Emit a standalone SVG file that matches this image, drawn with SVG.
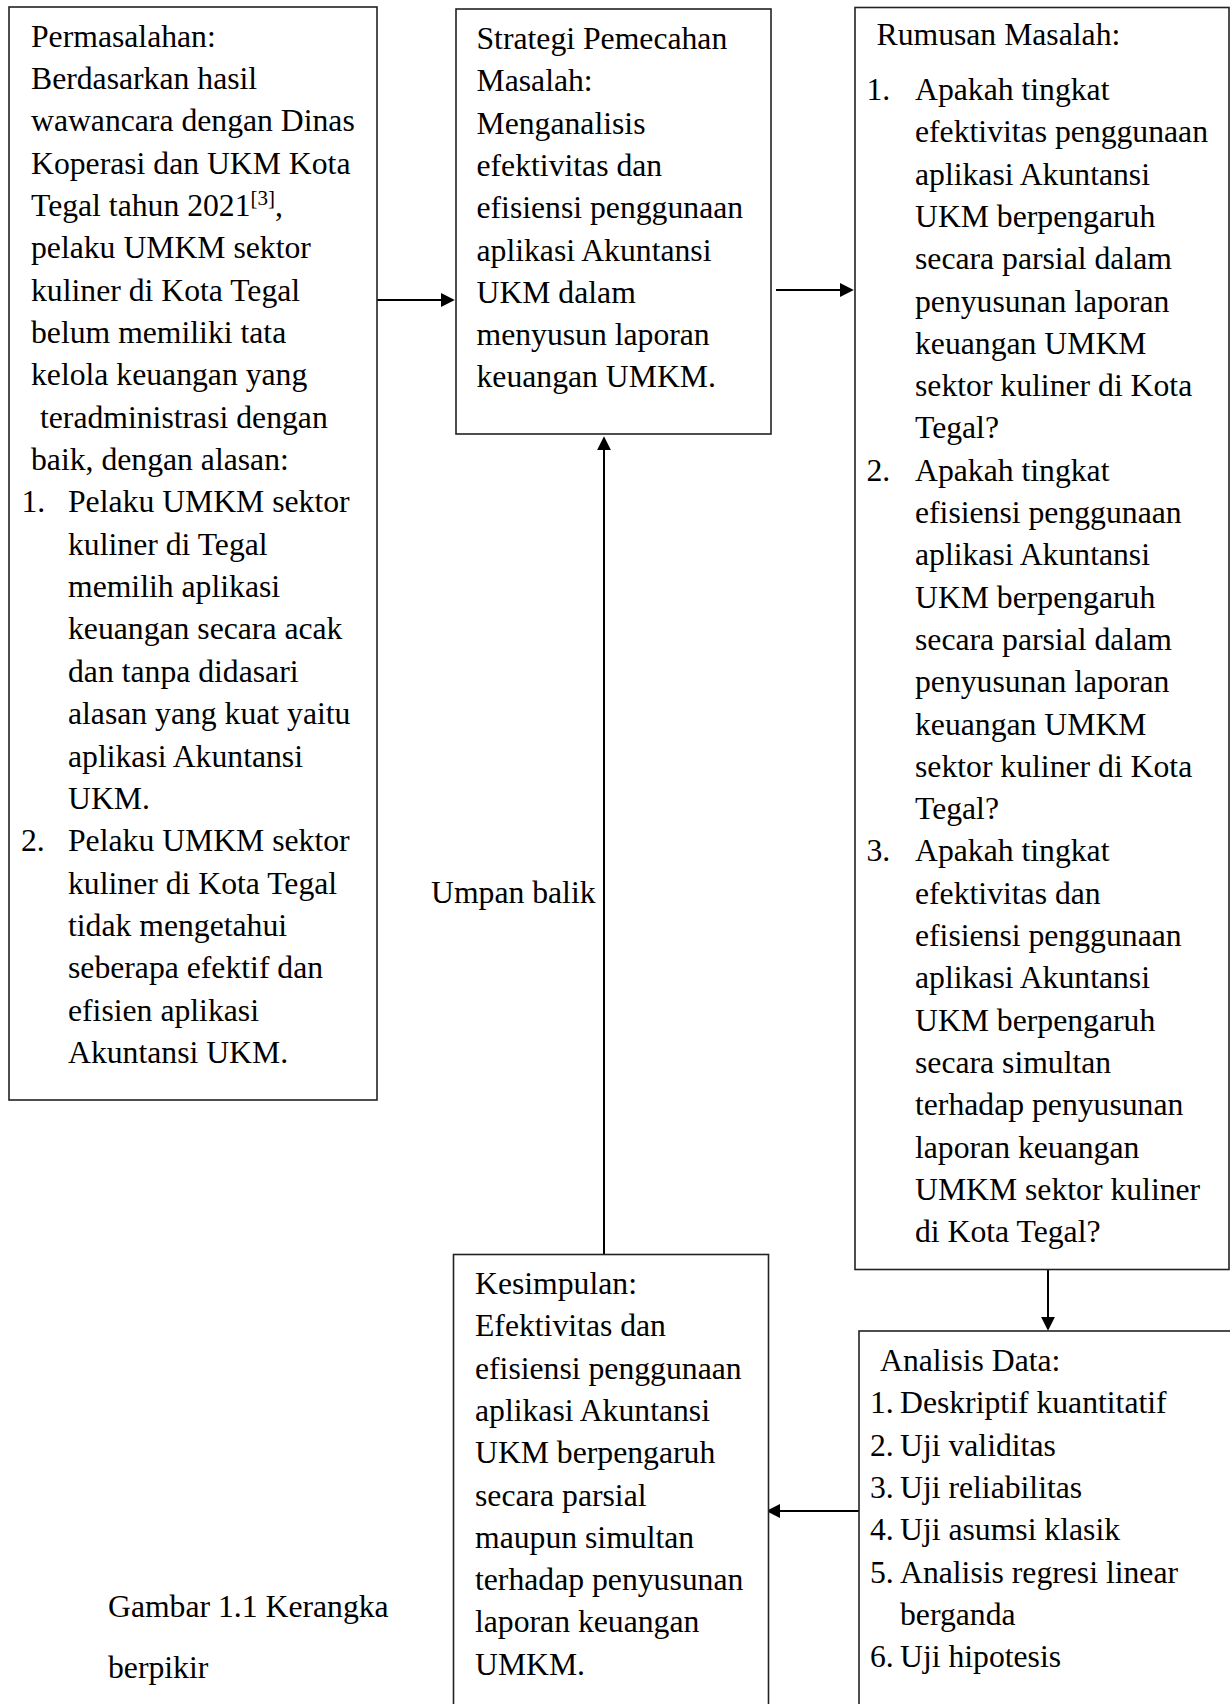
<svg xmlns="http://www.w3.org/2000/svg" width="1230" height="1704" viewBox="0 0 1230 1704">
<style>
.bg{fill:#fff}
.box{fill:#fff;stroke:#222;stroke-width:1.6}
.t{font-family:"Liberation Serif","Times New Roman",serif;font-size:31.7px;fill:#000}
.sup{font-size:21px}
.c{fill:none;stroke:#000;stroke-width:2}
</style>
<defs>
<marker id="ah" viewBox="0 0 10 10" refX="8" refY="5" markerWidth="7" markerHeight="7" markerUnits="strokeWidth" orient="auto">
<path d="M0,0 L10,5 L0,10 z" fill="#000"/>
</marker>
</defs>
<rect class="bg" x="0" y="0" width="1230" height="1704"/>

<g id="connectors">
<path class="c" d="M377,300 H452" marker-end="url(#ah)"/>
<path class="c" d="M776,290 H851" marker-end="url(#ah)"/>
<path class="c" d="M1048,1270 V1328" marker-end="url(#ah)"/>
<path class="c" d="M859,1511 H769" marker-end="url(#ah)"/>
<path class="c" d="M604,1254 V439" marker-end="url(#ah)"/>
<text class="t" x="431" y="903">Umpan balik</text>
</g>

<g id="permasalahan">
<rect class="box" x="9" y="7" width="368" height="1093"/>
<text class="t" x="31" y="46.5">Permasalahan:</text>
<text class="t" x="31" y="88.9">Berdasarkan hasil</text>
<text class="t" x="31" y="131.2">wawancara dengan Dinas</text>
<text class="t" x="31" y="173.6">Koperasi dan UKM Kota</text>
<text class="t" x="31" y="215.9">Tegal tahun 2021<tspan class="sup" dy="-11">[3]</tspan><tspan dy="11">,</tspan></text>
<text class="t" x="31" y="258.3">pelaku UMKM sektor</text>
<text class="t" x="31" y="300.6">kuliner di Kota Tegal</text>
<text class="t" x="31" y="343">belum memiliki tata</text>
<text class="t" x="31" y="385.3">kelola keuangan yang</text>
<text class="t" x="40" y="427.7">teradministrasi dengan</text>
<text class="t" x="31" y="470">baik, dengan alasan:</text>
<text class="t" x="21.5" y="512.4">1.</text>
<text class="t" x="68" y="512.4">Pelaku UMKM sektor</text>
<text class="t" x="68" y="554.7">kuliner di Tegal</text>
<text class="t" x="68" y="597.1">memilih aplikasi</text>
<text class="t" x="68" y="639.4">keuangan secara acak</text>
<text class="t" x="68" y="681.8">dan tanpa didasari</text>
<text class="t" x="68" y="724.1">alasan yang kuat yaitu</text>
<text class="t" x="68" y="766.5">aplikasi Akuntansi</text>
<text class="t" x="68" y="808.8">UKM.</text>
<text class="t" x="21" y="851.2">2.</text>
<text class="t" x="68" y="851.2">Pelaku UMKM sektor</text>
<text class="t" x="68" y="893.5">kuliner di Kota Tegal</text>
<text class="t" x="68" y="935.9">tidak mengetahui</text>
<text class="t" x="68" y="978.2">seberapa efektif dan</text>
<text class="t" x="68" y="1020.6">efisien aplikasi</text>
<text class="t" x="68" y="1062.9">Akuntansi UKM.</text>
</g>

<g id="strategi">
<rect class="box" x="456" y="9" width="315" height="425"/>
<text class="t" x="476.5" y="49">Strategi Pemecahan</text>
<text class="t" x="476.5" y="91.3">Masalah:</text>
<text class="t" x="476.5" y="133.6">Menganalisis</text>
<text class="t" x="476.5" y="175.9">efektivitas dan</text>
<text class="t" x="476.5" y="218.2">efisiensi penggunaan</text>
<text class="t" x="476.5" y="260.5">aplikasi Akuntansi</text>
<text class="t" x="476.5" y="302.8">UKM dalam</text>
<text class="t" x="476.5" y="345.1">menyusun laporan</text>
<text class="t" x="476.5" y="387.4">keuangan UMKM.</text>
</g>

<g id="rumusan">
<rect class="box" x="855" y="7.5" width="374" height="1262"/>
<text class="t" x="876.5" y="45">Rumusan Masalah:</text>
<text class="t" x="866.5" y="100">1.</text>
<text class="t" x="915" y="100">Apakah tingkat</text>
<text class="t" x="915" y="142.3">efektivitas penggunaan</text>
<text class="t" x="915" y="184.6">aplikasi Akuntansi</text>
<text class="t" x="915" y="226.9">UKM berpengaruh</text>
<text class="t" x="915" y="269.2">secara parsial dalam</text>
<text class="t" x="915" y="311.5">penyusunan laporan</text>
<text class="t" x="915" y="353.8">keuangan UMKM</text>
<text class="t" x="915" y="396.1">sektor kuliner di Kota</text>
<text class="t" x="915" y="438.4">Tegal?</text>
<text class="t" x="866.5" y="480.7">2.</text>
<text class="t" x="915" y="480.7">Apakah tingkat</text>
<text class="t" x="915" y="523">efisiensi penggunaan</text>
<text class="t" x="915" y="565.3">aplikasi Akuntansi</text>
<text class="t" x="915" y="607.6">UKM berpengaruh</text>
<text class="t" x="915" y="649.9">secara parsial dalam</text>
<text class="t" x="915" y="692.2">penyusunan laporan</text>
<text class="t" x="915" y="734.5">keuangan UMKM</text>
<text class="t" x="915" y="776.8">sektor kuliner di Kota</text>
<text class="t" x="915" y="819.1">Tegal?</text>
<text class="t" x="866.5" y="861.4">3.</text>
<text class="t" x="915" y="861.4">Apakah tingkat</text>
<text class="t" x="915" y="903.7">efektivitas dan</text>
<text class="t" x="915" y="946">efisiensi penggunaan</text>
<text class="t" x="915" y="988.3">aplikasi Akuntansi</text>
<text class="t" x="915" y="1030.6">UKM berpengaruh</text>
<text class="t" x="915" y="1072.9">secara simultan</text>
<text class="t" x="915" y="1115.2">terhadap penyusunan</text>
<text class="t" x="915" y="1157.5">laporan keuangan</text>
<text class="t" x="915" y="1199.8">UMKM sektor kuliner</text>
<text class="t" x="915" y="1242.1">di Kota Tegal?</text>
</g>

<g id="kesimpulan">
<rect class="box" x="453.5" y="1254.5" width="315" height="470"/>
<text class="t" x="475" y="1294">Kesimpulan:</text>
<text class="t" x="475" y="1336.3">Efektivitas dan</text>
<text class="t" x="475" y="1378.6">efisiensi penggunaan</text>
<text class="t" x="475" y="1420.9">aplikasi Akuntansi</text>
<text class="t" x="475" y="1463.2">UKM berpengaruh</text>
<text class="t" x="475" y="1505.5">secara parsial</text>
<text class="t" x="475" y="1547.8">maupun simultan</text>
<text class="t" x="475" y="1590.1">terhadap penyusunan</text>
<text class="t" x="475" y="1632.4">laporan keuangan</text>
<text class="t" x="475" y="1674.7">UMKM.</text>
</g>

<g id="analisis">
<rect class="box" x="859" y="1331" width="390" height="400"/>
<text class="t" x="880" y="1371">Analisis Data:</text>
<text class="t" x="870" y="1413.3">1.</text>
<text class="t" x="900" y="1413.3">Deskriptif kuantitatif</text>
<text class="t" x="870" y="1455.6">2.</text>
<text class="t" x="900" y="1455.6">Uji validitas</text>
<text class="t" x="870" y="1497.9">3.</text>
<text class="t" x="900" y="1497.9">Uji reliabilitas</text>
<text class="t" x="870" y="1540.2">4.</text>
<text class="t" x="900" y="1540.2">Uji asumsi klasik</text>
<text class="t" x="870" y="1582.5">5.</text>
<text class="t" x="900" y="1582.5">Analisis regresi linear</text>
<text class="t" x="900" y="1624.8">berganda</text>
<text class="t" x="870" y="1667.1">6.</text>
<text class="t" x="900" y="1667.1">Uji hipotesis</text>
</g>

<g id="caption">
<text class="t" x="108" y="1617">Gambar 1.1 Kerangka</text>
<text class="t" x="108" y="1678">berpikir</text>
</g>
</svg>
